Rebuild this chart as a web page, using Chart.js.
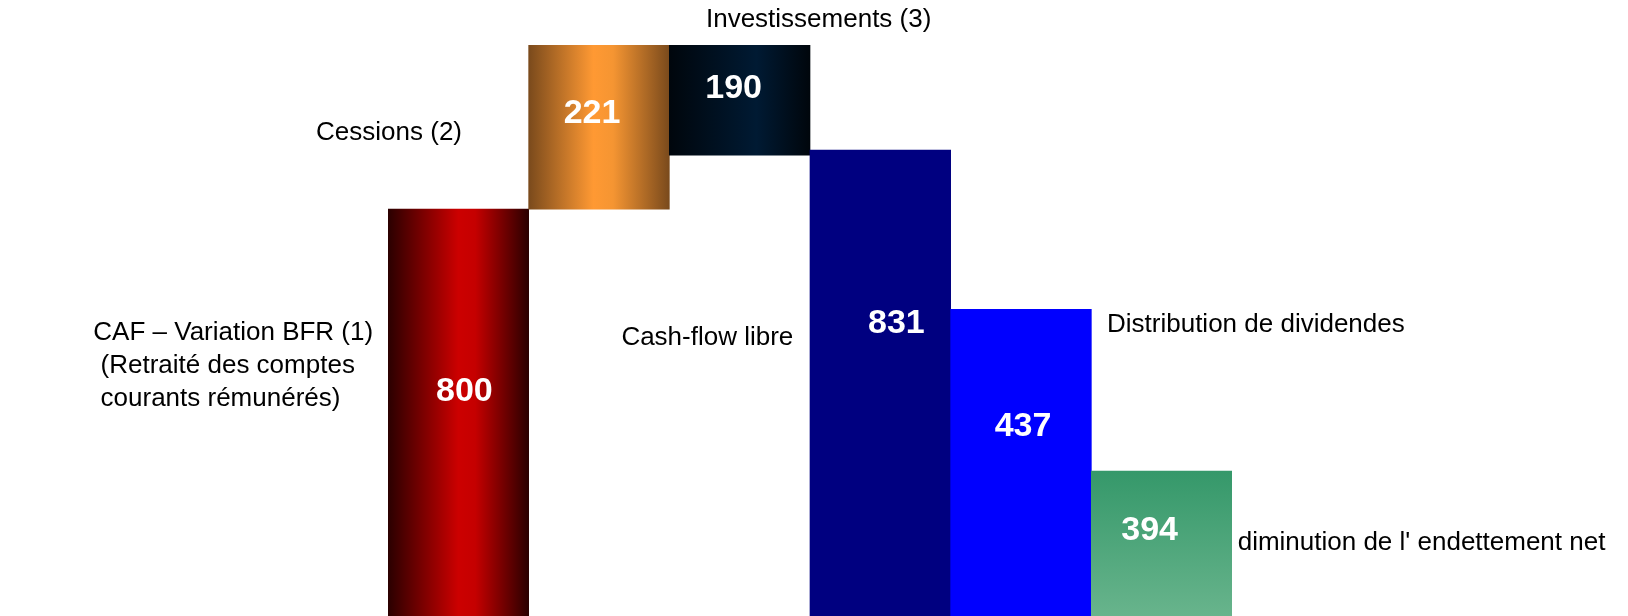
<!DOCTYPE html>
<html>
<head>
<meta charset="utf-8">
<script src="https://cdn.jsdelivr.net/npm/chart.js@4/dist/chart.umd.min.js"></script>
<style>
  html, body { margin: 0; padding: 0; background: #fff; }
  #wrap { width: 1628px; height: 616px; }
</style>
</head>
<body>
<div id="wrap"><canvas id="waterfall"></canvas></div>
<script>
// categories (multi-line where the picture wraps)
const categories = [
    ['CAF \u2013 Variation BFR (1)', ' (Retrait\u00e9 des comptes', ' courants r\u00e9mun\u00e9r\u00e9s)'],
    ['Cessions (2)'],
    ['Investissements (3)'],
    ['Cash-flow libre'],
    ['Distribution de dividendes'],
    ["diminution de l' endettement net"]
];
// printed amounts
const values = [800, 221, 190, 831, 437, 394];
// drawn extents of each bar (the picture is not to scale)
const barLow = [0, 800, 906, 0, 0, 0];
const barHigh = [800, 1122, 1122, 916, 603, 285];

// label placement, offsets from bar centre / bar top
const valueOffsets = [[6, 183], [-7, 68], [-6, 43], [16, 174], [2, 117], [-12, 60]];
const catPlacement = [
    { align: 'left', dx: -365, dy: 124, lh: 33 },
    { align: 'right', dx: -137, dy: 88 },
    { align: 'center', dx: 79, dy: -25 },
    { align: 'right', dx: -87, dy: 188 },
    { align: 'left', dx: 86, dy: 16 },
    { align: 'left', dx: 76, dy: 72 }
];

function hGrad(ctx, chart, i, stops) {
    const xs = chart.scales.x;
    if (!xs || !chart.chartArea) return stops[1][1];
    const half = xs.width / categories.length / 2;
    const cx = xs.getPixelForValue(i);
    const g = ctx.createLinearGradient(cx - half, 0, cx + half, 0);
    stops.forEach(s => g.addColorStop(s[0], s[1]));
    return g;
}

function barColor(context) {
    const chart = context.chart;
    const ctx = chart.ctx;
    const i = context.dataIndex;
    switch (i) {
        case 0: return hGrad(ctx, chart, i, [[0, '#2a0000'], [0.5, '#cc0000'], [0.62, '#c50000'], [1, '#2a0000']]);
        case 1: return hGrad(ctx, chart, i, [[0, '#7a4a1c'], [0.46, '#ff9933'], [0.6, '#f59532'], [1, '#7a4a1c']]);
        case 2: return hGrad(ctx, chart, i, [[0, '#00060c'], [0.62, '#001a33'], [1, '#00060c']]);
        case 3: return '#000080';
        case 4: return '#0000ff';
        default: {
            if (!chart.chartArea) return '#4aa57a';
            const ys = chart.scales.y;
            const top = ys.getPixelForValue(barHigh[i]);
            const g = ctx.createLinearGradient(0, top, 0, chart.chartArea.bottom);
            g.addColorStop(0, '#35986a');
            g.addColorStop(1, '#68b48c');
            return g;
        }
    }
}

const labelPlugin = {
    id: 'wfLabels',
    afterDatasetsDraw(chart) {
        const ctx = chart.ctx;
        const meta = chart.getDatasetMeta(0);
        ctx.save();
        meta.data.forEach((bar, i) => {
            const p = bar.getProps(['x', 'y', 'base'], true);
            const top = Math.min(p.y, p.base);
            // amount inside the bar
            ctx.font = 'bold 34px "Liberation Sans", Arial, sans-serif';
            ctx.fillStyle = '#ffffff';
            ctx.textAlign = 'center';
            ctx.textBaseline = 'middle';
            ctx.fillText(String(values[i]), p.x + valueOffsets[i][0], top + valueOffsets[i][1]);
            // category name beside the bar
            const pl = catPlacement[i];
            ctx.font = '26px "Liberation Sans", Arial, sans-serif';
            ctx.fillStyle = '#000000';
            ctx.textAlign = pl.align;
            categories[i].forEach((line, k) => {
                ctx.fillText(line, p.x + pl.dx, top + pl.dy + k * (pl.lh || 30));
            });
        });
        ctx.restore();
    }
};

document.addEventListener('DOMContentLoaded', () => {
    const ctx = document.getElementById('waterfall').getContext('2d');
    new Chart(ctx, {
        type: 'bar',
        data: {
            labels: categories.map(c => c.join(' ')),
            datasets: [{
                data: barLow.map((lo, i) => [lo, barHigh[i]]),
                backgroundColor: barColor,
                borderWidth: 0,
                barPercentage: 1,
                categoryPercentage: 1
            }]
        },
        options: {
            responsive: true,
            maintainAspectRatio: false,
            animation: false,
            layout: { padding: { left: 388, right: 396, top: 0, bottom: 0 } },
            plugins: {
                legend: { display: false },
                tooltip: { enabled: false }
            },
            scales: {
                x: { display: false },
                y: { display: false, min: 0, max: 1211 }
            }
        },
        plugins: [labelPlugin]
    });
});
</script>
</body>
</html>
